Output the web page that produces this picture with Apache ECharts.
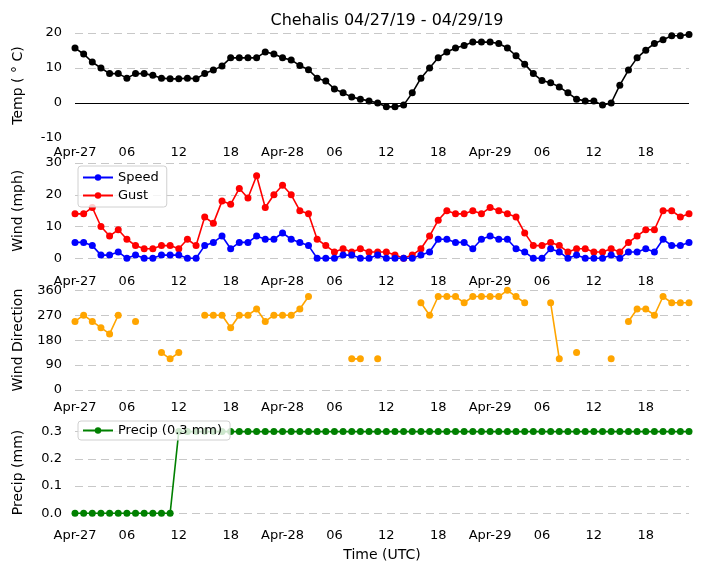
<!DOCTYPE html>
<html>
<head>
<meta charset="utf-8">
<script src="https://cdn.jsdelivr.net/npm/echarts@6/dist/echarts.min.js"></script>
<style>
html,body{margin:0;padding:0;background:#fff;}
#chart{width:704px;height:573px;}
</style>
</head>
<body>
<div id="chart"></div>
<script>
// ---- data (hourly, 2019-04-27 00:00 UTC .. 2019-04-29 23:00 UTC) ----
var hours = [];
for (var i = 0; i < 72; i++) hours.push(i);
var tickLabels = ["Apr-27","06","12","18","Apr-28","06","12","18","Apr-29","06","12","18"];
var temp = [15.7,14.0,11.7,10.0,8.4,8.4,7.1,8.4,8.4,7.9,7.1,6.9,
            6.9,7.1,6.9,8.4,9.4,10.6,12.9,12.9,12.9,12.9,14.6,14.0,
            12.9,12.3,10.7,9.5,7.1,6.3,4.0,2.9,1.7,1.1,0.6,0.0,
            -1.1,-1.1,-0.6,2.9,7.1,10.0,12.9,14.6,15.7,16.4,17.4,17.4,
            17.4,17.0,15.7,13.5,11.1,8.4,6.4,5.8,4.6,2.9,1.1,0.6,
            0.6,-0.6,0.0,5.1,9.4,12.9,15.1,17.0,18.1,19.2,19.2,19.6];
var speed = [5,5,4,1,1,2,0,1,0,0,1,1,
             1,0,0,4,5,7,3,5,5,7,6,6,
             8,6,5,4,0,0,0,1,1,0,0,1,
             0,0,0,0,1,2,6,6,5,5,3,6,
             7,6,6,3,2,0,0,3,2,0,1,0,
             0,0,1,0,2,2,3,2,6,4,4,5];
var gust = [14,14,16,10,7,9,6,4,3,3,4,4,
            3,6,4,13,11,18,17,22,19,26,16,20,
            23,20,15,14,6,4,2,3,2,3,2,2,
            2,1,0,1,3,7,12,15,14,14,15,14,
            16,15,14,13,8,4,4,5,4,2,3,3,
            2,2,3,2,5,7,9,9,15,15,13,14];
var dir = [247.5,270,247.5,225,202.5,270,null,247.5,null,null,135,112.5,
           135,null,null,270,270,270,225,270,270,292.5,247.5,270,
           270,270,292.5,337.5,null,null,null,null,112.5,112.5,null,112.5,
           null,null,null,null,315,270,337.5,337.5,337.5,315,337.5,337.5,
           337.5,337.5,360,337.5,315,null,null,315,112.5,null,135,null,
           null,null,112.5,null,247.5,292.5,292.5,270,337.5,315,315,315];
var precip = [0,0,0,0,0,0,0,0,0,0,0,0,
              0.3,0.3,0.3,0.3,0.3,0.3,0.3,0.3,0.3,0.3,0.3,0.3,
              0.3,0.3,0.3,0.3,0.3,0.3,0.3,0.3,0.3,0.3,0.3,0.3,
              0.3,0.3,0.3,0.3,0.3,0.3,0.3,0.3,0.3,0.3,0.3,0.3,
              0.3,0.3,0.3,0.3,0.3,0.3,0.3,0.3,0.3,0.3,0.3,0.3,
              0.3,0.3,0.3,0.3,0.3,0.3,0.3,0.3,0.3,0.3,0.3,0.3];

function pairs(arr){ return hours.map(function(h,i){ return [h, arr[i]]; }); }

var FONT = 'DejaVu Sans';
var GRID_COLOR = '#c8c8c8';

var grids = [
  {left:75, right:15, top:33,    height:105},
  {left:75, right:15, top:163,   height:95.3},
  {left:75, right:15, top:290.3, height:99.7},
  {left:75, right:15, top:431.6, height:81.7}
];
var labelMargins = [8, 17, 11, 16];

function makeX(idx){
  var ax = {
    type:'value', gridIndex:idx, min:0, max:71, interval:6,
    axisLine:{show:false}, axisTick:{show:false}, splitLine:{show:false},
    axisLabel:{
      color:'#000', fontSize:13, fontFamily:FONT, margin:labelMargins[idx],
      showMaxLabel:false,
      formatter:function(v){ if (v % 6 !== 0) return ''; return tickLabels[v/6] || ''; }
    }
  };
  if (idx === 3) {
    ax.name = 'Time (UTC)';
    ax.nameLocation = 'middle';
    ax.nameGap = 35;
    ax.nameTextStyle = {color:'#000', fontSize:14, fontFamily:FONT};
  }
  return ax;
}

function makeY(idx, name, min, max, interval, colors, fmt){
  return {
    type:'value', gridIndex:idx, min:min, max:max, interval:interval,
    name:name, nameLocation:'middle', nameGap:50,
    nameTextStyle:{color:'#000', fontSize:14, fontFamily:FONT},
    axisLine:{show:false}, axisTick:{show:false},
    axisLabel:{color:'#000', fontSize:13, fontFamily:FONT, margin:13, formatter:fmt},
    splitLine:{show:true, lineStyle:{color:colors, type:[8,5], width:1}}
  };
}

function lineSeries(name, arr, color, xi){
  return {
    name:name, type:'line', xAxisIndex:xi, yAxisIndex:xi,
    data:pairs(arr), symbol:'circle', symbolSize:7, showAllSymbol:true,
    connectNulls:false, clip:false,
    lineStyle:{color:color, width:1.6},
    itemStyle:{color:color},
    emphasis:{disabled:true}
  };
}

var tempSeries = lineSeries('Temp', temp, '#000000', 0);
tempSeries.markLine = {
  silent:true, symbol:['none','none'], label:{show:false},
  lineStyle:{color:'#000', width:1, type:'solid'},
  data:[{yAxis:0}]
};

var option = {
  animation:false,
  backgroundColor:'#fff',
  textStyle:{fontFamily:FONT},
  title:{
    text:'Chehalis 04/27/19 - 04/29/19',
    left:382, top:8, textAlign:'center',
    textStyle:{color:'#000', fontSize:16, fontWeight:'normal', fontFamily:FONT}
  },
  legend:[
    {
      data:['Speed','Gust'], orient:'vertical', left:78, top:166,
      padding:[5,8,5,4], itemGap:5, itemWidth:30, itemHeight:8,
      backgroundColor:'rgba(255,255,255,0.8)', borderColor:'#d0d0d0', borderWidth:1, borderRadius:3,
      textStyle:{color:'#000', fontSize:13, fontFamily:FONT},
      selectedMode:false
    },
    {
      data:['Precip (0.3 mm)'], orient:'vertical', left:78, top:421,
      padding:[3,8,3,4], itemWidth:30, itemHeight:8,
      backgroundColor:'rgba(255,255,255,0.8)', borderColor:'#d0d0d0', borderWidth:1, borderRadius:3,
      textStyle:{color:'#000', fontSize:13, fontFamily:FONT},
      selectedMode:false
    }
  ],
  grid:grids,
  xAxis:[makeX(0), makeX(1), makeX(2), makeX(3)],
  yAxis:[
    makeY(0, 'Temp ( \u00B0 C)', -10, 20, 10, ['rgba(0,0,0,0)', GRID_COLOR, GRID_COLOR, GRID_COLOR]),
    makeY(1, 'Wind (mph)', 0, 30, 10, GRID_COLOR),
    makeY(2, 'Wind Direction', 0, 360, 90, GRID_COLOR),
    makeY(3, 'Precip (mm)', 0, 0.3, 0.1, GRID_COLOR, function(v){ return v.toFixed(1); })
  ],
  series:[
    tempSeries,
    lineSeries('Gust', gust, '#ff0000', 1),
    lineSeries('Speed', speed, '#0000ff', 1),
    lineSeries('Direction', dir, '#ffa500', 2),
    lineSeries('Precip (0.3 mm)', precip, '#008000', 3)
  ]
};

var chart = echarts.init(document.getElementById('chart'), null, {renderer:'canvas'});
chart.setOption(option);
</script>
</body>
</html>
